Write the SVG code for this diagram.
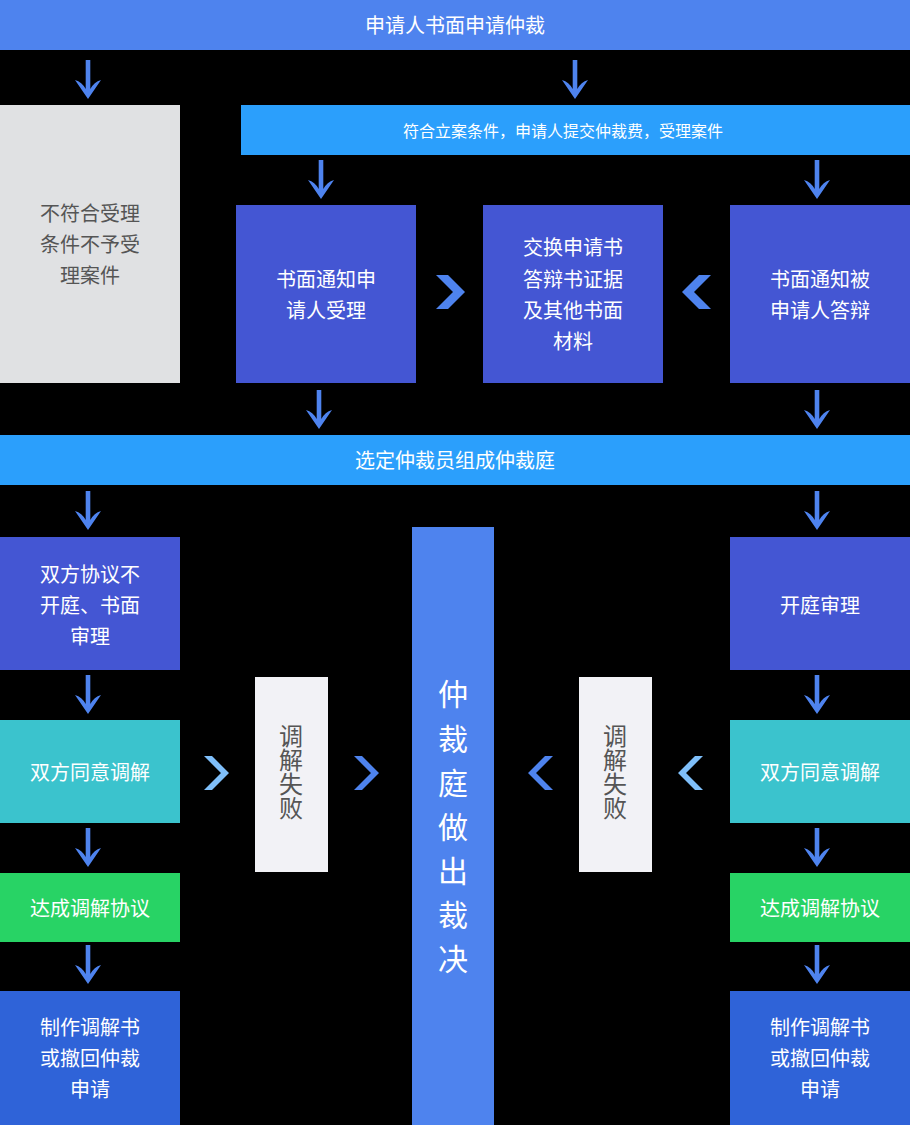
<svg xmlns="http://www.w3.org/2000/svg" width="910" height="1125" viewBox="0 0 910 1125">
<defs>
<style>
text{font-family:"Noto Sans CJK SC","Noto Sans",sans-serif;text-anchor:middle;}
.w{fill:#ffffff;font-size:20px;}
.g{fill:#555555;font-size:20px;}
.s{fill:#ffffff;font-size:16px;}
.v{fill:#ffffff;font-size:30px;}
.vg{fill:#555555;font-size:24px;writing-mode:vertical-rl;text-orientation:upright;}
.arr{fill:#4e83ee;}
.chev{fill:#4e83ee;}
.chevl{fill:#7fbffa;}
</style>
<path id="a" d="M-2.3,0 H2.3 V29 Q6,22 13,20 L0,39 L-13,20 Q-6,22 -2.3,29 Z"/>
</defs>
<rect x="0" y="0" width="910" height="1125" fill="#000000"/>

<g id="n-start"><rect x="0" y="0" width="910" height="50" fill="#4e83ee"/><text class="w" x="455" y="32.6">申请人书面申请仲裁</text></g>
<g id="n-reject"><rect x="0" y="105" width="180" height="278" fill="#e0e1e3"/>
<text class="g" x="90" y="220.6">不符合受理</text><text class="g" x="90" y="251.6">条件不予受</text><text class="g" x="90" y="282.6">理案件</text></g>
<g id="n-accept"><rect x="241" y="105" width="669" height="50" fill="#2b9ffc"/><text class="s" x="563" y="137">符合立案条件，申请人提交仲裁费，受理案件</text></g>
<g id="n-notify-applicant"><rect x="236" y="205" width="180" height="178" fill="#4456d3"/>
<text class="w" x="326" y="286.6">书面通知申</text><text class="w" x="326" y="317.6">请人受理</text></g>
<g id="n-exchange"><rect x="483" y="205" width="180" height="178" fill="#4456d3"/>
<text class="w" x="573" y="254.6">交换申请书</text><text class="w" x="573" y="286.6">答辩书证据</text><text class="w" x="573" y="317.6">及其他书面</text><text class="w" x="573" y="348.6">材料</text></g>
<g id="n-notify-respondent"><rect x="730" y="205" width="180" height="178" fill="#4456d3"/>
<text class="w" x="820" y="286.6">书面通知被</text><text class="w" x="820" y="317.6">申请人答辩</text></g>
<g id="n-select"><rect x="0" y="435" width="910" height="50" fill="#2b9ffc"/><text class="w" x="455" y="467.6">选定仲裁员组成仲裁庭</text></g>
<g id="n-written"><rect x="0" y="537" width="180" height="133" fill="#4456d3"/>
<text class="w" x="90" y="581.6">双方协议不</text><text class="w" x="90" y="612.6">开庭、书面</text><text class="w" x="90" y="643.6">审理</text></g>
<g id="n-hearing"><rect x="730" y="537" width="180" height="133" fill="#4456d3"/><text class="w" x="820" y="612.6">开庭审理</text></g>
<g id="n-award"><rect x="412" y="527" width="82" height="598" fill="#4e83ee"/>
<text class="v" x="453" y="705">仲</text><text class="v" x="453" y="749.5">裁</text><text class="v" x="453" y="793.5">庭</text><text class="v" x="453" y="837.5">做</text><text class="v" x="453" y="881.5">出</text><text class="v" x="453" y="925.5">裁</text><text class="v" x="453" y="969.5">决</text></g>
<g id="n-mediate-l"><rect x="0" y="720" width="180" height="103" fill="#3bc3cd"/><text class="w" x="90" y="779.6">双方同意调解</text></g>
<g id="n-mediate-r"><rect x="730" y="720" width="180" height="103" fill="#3bc3cd"/><text class="w" x="820" y="779.6">双方同意调解</text></g>
<g id="n-fail-l"><rect x="255" y="677" width="73" height="195" fill="#f2f2f6"/>
<text class="vg" x="291" y="772">调解失败</text></g>
<g id="n-fail-r"><rect x="579" y="677" width="73" height="195" fill="#f2f2f6"/>
<text class="vg" x="615" y="772">调解失败</text></g>
<g id="n-agree-l"><rect x="0" y="873" width="180" height="69" fill="#28d365"/><text class="w" x="90" y="915.6">达成调解协议</text></g>
<g id="n-agree-r"><rect x="730" y="873" width="180" height="69" fill="#28d365"/><text class="w" x="820" y="915.6">达成调解协议</text></g>
<g id="n-doc-l"><rect x="0" y="991" width="180" height="134" fill="#2f63d8"/>
<text class="w" x="90" y="1034.6">制作调解书</text><text class="w" x="90" y="1065.6">或撤回仲裁</text><text class="w" x="90" y="1096.6">申请</text></g>
<g id="n-doc-r"><rect x="730" y="991" width="180" height="134" fill="#2f63d8"/>
<text class="w" x="820" y="1034.6">制作调解书</text><text class="w" x="820" y="1065.6">或撤回仲裁</text><text class="w" x="820" y="1096.6">申请</text></g>

<g id="connectors">
<use href="#a" class="arr" x="88" y="60"/>
<use href="#a" class="arr" x="575" y="60"/>
<use href="#a" class="arr" x="321" y="160"/>
<use href="#a" class="arr" x="817" y="160"/>
<use href="#a" class="arr" x="319" y="390"/>
<use href="#a" class="arr" x="817" y="390"/>
<use href="#a" class="arr" x="88" y="491"/>
<use href="#a" class="arr" x="817" y="491"/>
<use href="#a" class="arr" x="88" y="675"/>
<use href="#a" class="arr" x="817" y="675"/>
<use href="#a" class="arr" x="88" y="828"/>
<use href="#a" class="arr" x="817" y="828"/>
<use href="#a" class="arr" x="88" y="945"/>
<use href="#a" class="arr" x="817" y="945"/>
<polygon class="chev" points="436,275 448,275 465,292 448,309 436,309 453,292"/>
<polygon class="chev" points="711,275 699,275 682,292 699,309 711,309 694,292"/>
<polygon class="chevl" points="204,756 212,756 229,773 212,790 204,790 221,773"/>
<polygon class="chev" points="354,756 362,756 379,773 362,790 354,790 371,773"/>
<polygon class="chev" points="553,756 545,756 528,773 545,790 553,790 536,773"/>
<polygon class="chevl" points="703,756 695,756 678,773 695,790 703,790 686,773"/>
</g>
</svg>
